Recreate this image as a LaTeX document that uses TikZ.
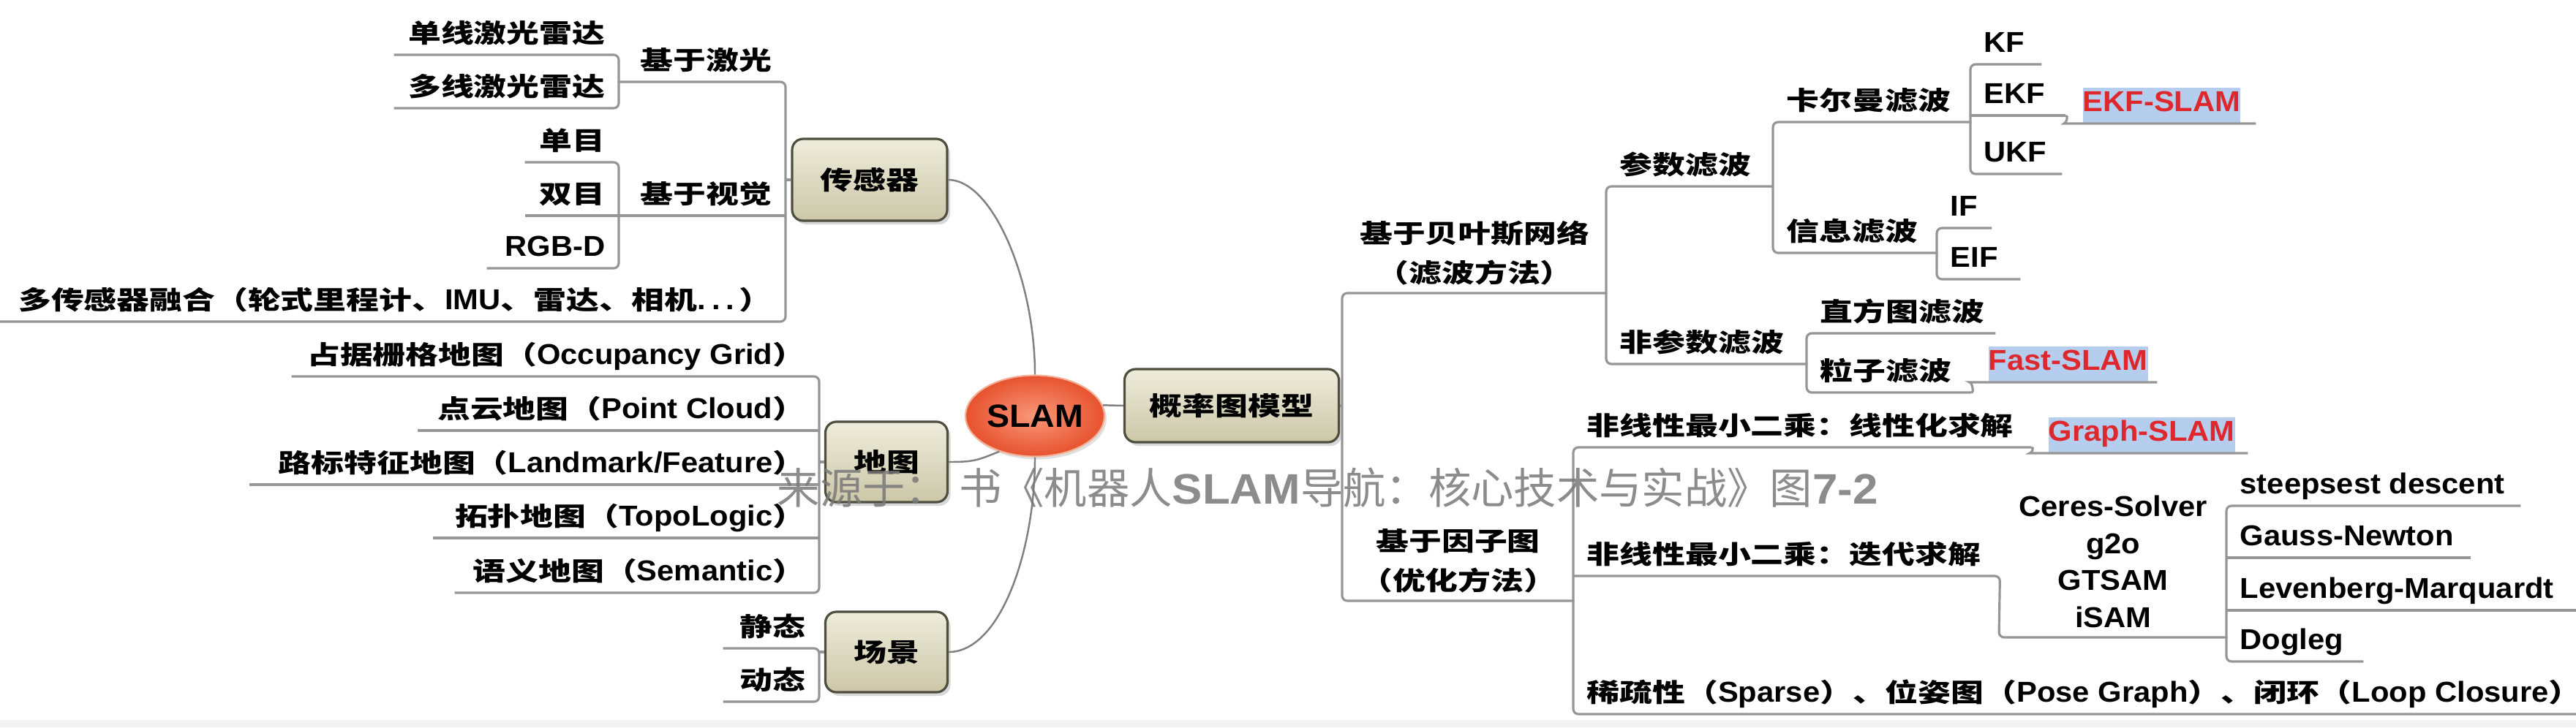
\documentclass[tikz,border=0pt]{standalone}
\usepackage{fontspec}
\setmainfont{Liberation Sans}[FakeStretch=1.06]
\newfontfamily\zhfont{Noto Sans CJK SC}[FakeStretch=1.28, Scale=0.89]
\newfontfamily\wmfont{Noto Sans CJK SC}
\usepackage{tikz}
\usetikzlibrary{shapes.geometric, shadows, calc}
\definecolor{linegray}{RGB}{150,150,150}
\definecolor{linkgray}{RGB}{128,128,128}
\definecolor{boxtop}{RGB}{238,236,220}
\definecolor{boxbot}{RGB}{204,199,168}
\definecolor{boxline}{RGB}{78,78,62}
\definecolor{hubin}{RGB}{249,152,122}
\definecolor{hubout}{RGB}{231,82,46}
\definecolor{hubrim}{RGB}{244,176,150}
\definecolor{slamred}{RGB}{222,40,46}
\definecolor{hlblue}{RGB}{182,206,238}
\definecolor{wmgray}{RGB}{120,120,120}
\newcommand{\zhbf}{\zhfont\bfseries\fontsize{11.2}{15.4}\selectfont}
\newcommand{\enbf}{\rmfamily\bfseries\fontsize{11.2}{14.5}\selectfont}
\newcommand{\eng}[1]{{\rmfamily #1}}
\newcommand{\hilite}[1]{{\setlength{\fboxsep}{0pt}\colorbox{hlblue}{\rule[-0.16cm]{0pt}{0.48cm}#1}}}
\tikzset{
  branch/.style={draw=linegray, line width=0.9pt, rounded corners=2pt},
  link/.style={draw=linkgray, line width=0.7pt},
  topic/.style={inner xsep=0.18cm, inner ysep=0.16cm, text depth=0pt,
    font=\zhbf, text=black},
  ltopic/.style={topic, anchor=south east,
    execute at begin node={\hbox to #1\bgroup\hss}, execute at end node={\egroup}},
  rtopic/.style={topic, anchor=south west,
    execute at begin node={\hbox to #1\bgroup}, execute at end node={\hss\egroup}},
  ctopic/.style={topic, anchor=south west, text depth={}, inner ysep=0.10cm,
    text width=#1, align=center},
  hot/.style={text=slamred},
  mainbox/.style={rectangle, rounded corners=0.15cm, draw=boxline, line width=0.9pt,
    top color=boxtop, bottom color=boxbot, font=\zhbf,
    drop shadow={shadow xshift=0.04cm, shadow yshift=-0.05cm, opacity=0.3}},
  hub/.style={ellipse, minimum width=1.90cm, minimum height=1.11cm, inner sep=0pt,
    inner color=hubin, outer color=hubout, draw=hubrim, line width=0.6pt,
    font=\rmfamily\bfseries\fontsize{12.5}{14}\selectfont,
    drop shadow={shadow xshift=0.03cm, shadow yshift=-0.04cm, opacity=0.25}},
  wmark/.style={inner sep=0pt, text=wmgray, text opacity=0.85,
    font=\wmfont\fontsize{16.6}{18}\selectfont}
}
\begin{document}
\begin{tikzpicture}[y=-1cm]
  \fill[white] (0,0) rectangle (35.22,9.95);
  \fill[black!5] (0,9.85) rectangle (35.22,9.95);
  \useasboundingbox (0,0) rectangle (35.22,9.95);

  % centre and first level
  \node[hub] (slam) at (14.15,5.69) {SLAM};
  \node[mainbox, minimum width=2.12cm, minimum height=1.12cm] (sensor) at (11.89,2.46) {传感器};
  \node[mainbox, minimum width=1.67cm, minimum height=1.10cm] (map) at (12.12,6.32) {地图};
  \node[mainbox, minimum width=1.67cm, minimum height=1.10cm] (scene) at (12.12,8.92) {场景};
  \node[mainbox, minimum width=2.93cm, minimum height=1.00cm] (pgm) at (16.84,5.55) {概率图模型};

  % sensor side
  \node[ltopic=2.70cm] (las1) at (8.46,0.75) {单线激光雷达};
  \node[ltopic=2.70cm] (las2) at (8.46,1.48) {多线激光雷达};
  \node[ltopic=1.92cm] (laser) at (10.74,1.12) {基于激光};
  \node[ltopic=0.91cm] (mono) at (8.46,2.22) {单目};
  \node[ltopic=0.91cm] (stereo) at (8.46,2.95) {双目};
  \node[ltopic=1.43cm, font=\enbf] (rgbd) at (8.46,3.67) {RGB-D};
  \node[ltopic=1.92cm] (vision) at (10.74,2.95) {基于视觉};
  \node[ltopic=10.38cm] (fusion) at (10.74,4.40) {多传感器融合（轮式里程计、\eng{IMU}、雷达、相机\eng{.\hspace{0.08cm}.\hspace{0.08cm}.\hspace{0.06cm}}）};

  % map and scene side
  \node[ltopic=6.84cm] (occ) at (11.20,5.15) {占据栅格地图（\eng{Occupancy Grid}）};
  \node[ltopic=5.12cm] (pcd) at (11.20,5.89) {点云地图（\eng{Point Cloud}）};
  \node[ltopic=7.42cm] (lmk) at (11.20,6.63) {路标特征地图（\eng{Landmark/Feature}）};
  \node[ltopic=4.91cm] (topo) at (11.20,7.36) {拓扑地图（\eng{TopoLogic}）};
  \node[ltopic=4.61cm] (sem) at (11.20,8.11) {语义地图（\eng{Semantic}）};
  \node[ltopic=0.94cm] (static) at (11.20,8.87) {静态};
  \node[ltopic=0.94cm] (dynamic) at (11.20,9.60) {动态};

  % filtering side
  \node[ctopic=3.25cm] (bayes) at (18.35,4.01) {基于贝叶斯网络\\（滤波方法）};
  \node[rtopic=1.92cm] (param) at (21.96,2.55) {参数滤波};
  \node[rtopic=2.34cm] (kalman) at (24.24,1.67) {卡尔曼滤波};
  \node[rtopic=0.60cm, font=\enbf] (kf) at (26.94,0.88) {KF};
  \node[rtopic=0.93cm, font=\enbf] (ekf) at (26.94,1.58) {EKF};
  \node[rtopic=0.88cm, font=\enbf] (ukf) at (26.94,2.38) {UKF};
  \node[rtopic=2.18cm, font=\enbf, hot] (ekfslam) at (28.29,1.69) {\hilite{EKF-SLAM}};
  \node[rtopic=1.88cm] (info) at (24.24,3.46) {信息滤波};
  \node[rtopic=0.38cm, font=\enbf] (ifilt) at (26.48,3.12) {IF};
  \node[rtopic=0.77cm, font=\enbf] (eif) at (26.48,3.82) {EIF};
  \node[rtopic=2.38cm] (nonparam) at (21.96,4.98) {非参数滤波};
  \node[rtopic=2.21cm] (hist) at (24.70,4.56) {直方图滤波};
  \node[rtopic=1.88cm] (pf) at (24.70,5.37) {粒子滤波};
  \node[rtopic=2.12cm, font=\enbf, hot] (fastslam) at (27.00,5.23) {\hilite{Fast-SLAM}};

  % optimisation side
  \node[ctopic=2.80cm] (factor) at (18.35,8.22) {基于因子图\\（优化方法）};
  \node[rtopic=5.89cm] (lin) at (21.51,6.12) {非线性最小二乘：线性化求解};
  \node[rtopic=2.54cm, font=\enbf, hot] (graphslam) at (27.82,6.20) {\hilite{Graph-SLAM}};
  \node[rtopic=5.46cm] (iter) at (21.51,7.88) {非线性最小二乘：迭代求解};
  \node[ctopic=2.75cm, inner ysep=0.12cm, font=\rmfamily\bfseries\fontsize{11.2}{14.5}\selectfont] (solver) at (27.33,8.72) {Ceres-Solver\\g2o\\GTSAM\\iSAM};
  \node[rtopic=3.65cm, font=\enbf] (sd) at (30.44,6.92) {steepsest descent};
  \node[rtopic=2.97cm, font=\enbf] (gn) at (30.44,7.63) {Gauss-Newton};
  \node[rtopic=4.42cm, font=\enbf] (lm) at (30.44,8.35) {Levenberg-Marquardt};
  \node[rtopic=1.50cm, font=\enbf] (dl) at (30.44,9.05) {Dogleg};
  \node[rtopic=13.35cm] (sparse) at (21.51,9.77) {稀疏性（\eng{Sparse}）、位姿图（\eng{Pose Graph}）、闭环（\eng{Loop Closure}）};

  % links round the centre
  \draw[link] (sensor.east) .. controls +(0.6,0) and +(0,-1.3) .. (slam.north);
  \draw[link] (map.east) .. controls +(0.35,0) and +(-0.3,0.12) .. (slam.225);
  \draw[link] (slam.south) .. controls +(0,1.3) and +(0.7,0) .. (scene.east);
  \draw[link] (slam.9) -- (pgm.west);

  % box stubs
  \draw[branch] (sensor.west) -- (sensor.west -| laser.south east);
  \draw[branch] (map.west) -- (map.west -| occ.south east);
  \draw[branch] (scene.west) -- (scene.west -| static.south east);
  \draw[branch] (pgm.east) -- (pgm.east -| bayes.south west);

  % left brackets
  \draw[branch] (las1.south west) -- (las1.south east) -- (las2.south east) -- (las2.south west);
  \draw[branch] (mono.south west) -- (mono.south east) -- (rgbd.south east) -- (rgbd.south west);
  \draw[branch] (laser.south west) -- (laser.south east) -- (fusion.south east) -- (fusion.south west);
  \draw[branch] (occ.south west) -- (occ.south east) -- (sem.south east) -- (sem.south west);
  \draw[branch] (static.south west) -- (static.south east) -- (dynamic.south east) -- (dynamic.south west);

  % right brackets
  \draw[branch] (bayes.south east) -- (bayes.south west) -- (factor.south west) -- (factor.south east);
  \draw[branch] (param.south east) -- (param.south west) -- (nonparam.south west) -- (nonparam.south east);
  \draw[branch] (kalman.south east) -- (kalman.south west) -- (info.south west) -- (info.south east);
  \draw[branch] (kf.south east) -- (kf.south west) -- (ukf.south west) -- (ukf.south east);
  \draw[branch] (ifilt.south east) -- (ifilt.south west) -- (eif.south west) -- (eif.south east);
  \draw[branch] (hist.south east) -- (hist.south west) -- (pf.south west) -- (pf.south east);
  \draw[branch] (lin.south east) -- (lin.south west) -- (sparse.south west) -- (sparse.south east);
  \draw[branch] (iter.south west) -- (iter.south east) -- (solver.south west) -- (solver.south east);
  \draw[branch] (sd.south east) -- (sd.south west) -- (dl.south west) -- (dl.south east);

  % single children
  \draw[branch] (ekf.south east) .. controls +(0.04,0) and +(-0.04,0) .. (ekfslam.south west) -- (ekfslam.south east);
  \draw[branch] (pf.south east) .. controls +(0.04,0) and +(-0.04,0) .. (fastslam.south west) -- (fastslam.south east);
  \draw[branch] (lin.south east) .. controls +(0.04,0) and +(-0.04,0) .. (graphslam.south west) -- (graphslam.south east);

  % middle children
  \foreach \n in {stereo, vision, pcd, lmk, topo, ekf, gn, lm}
    \draw[branch] (\n.south west) -- (\n.south east);

  % source note
  \node[wmark, anchor=base west] (src) at (10.62,6.89)
    {来源于：\hspace{0.15cm}书《机器人{\rmfamily\bfseries SLAM}导航：核心技术与实战》图{\rmfamily\bfseries 7-2}};
\end{tikzpicture}
\end{document}
